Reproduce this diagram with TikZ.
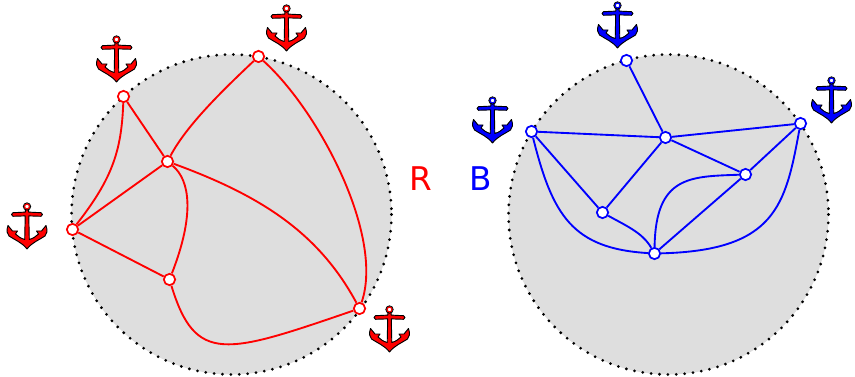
\documentclass[tikz,border=0pt]{standalone}
\usepackage{fontspec}
\setmainfont{DejaVu Sans}
\usepackage{xcolor}
\usetikzlibrary{positioning}

\definecolor{diskgray}{RGB}{222,222,222}

\tikzset{
  anchorsym/.pic={
    \path[pic actions, draw=black, line width=0.7pt, line join=round]
      (-1.6,-13) -- (-1.6,-10.4) -- (-14,-9.8) -- (-15.5,-8) -- (-14,-6.2) -- (-1.8,-6.6)
      -- (-2.3,17) .. controls (-6,16) and (-9,14) .. (-11.5,11.5)
      -- (-9.5,8.5) -- (-14.5,8.5) -- (-19,3) .. controls (-20.5,8) and (-20.5,11) .. (-18,13.5)
      .. controls (-12,17.5) and (-5,20) .. (0,26.5)
      .. controls (5,20) and (12,17.5) .. (18,13.5)
      .. controls (20.5,11) and (20.5,8) .. (19,3)
      -- (14.5,8.5) -- (9.5,8.5) -- (11.5,11.5)
      .. controls (9,14) and (6,16) .. (2.3,17)
      -- (1.8,-6.6) -- (14,-6.2) -- (15.5,-8) -- (14,-9.8) -- (1.6,-10.4) -- (1.6,-13) -- cycle;
    \draw[pic actions, fill=none, line width=1.1pt] (0,-16) circle (2.6);
    \draw[black, line width=0.6pt] (0,-16) circle (3.7);
  }
}

\begin{document}
\begin{tikzpicture}[
  x=0.75pt, y=-0.75pt,
  disk/.style={draw=black, fill=diskgray, line width=2.3pt, line cap=round, dash pattern=on 0pt off 6.3pt},
  vert/.style={circle, draw, fill=white, line width=1.3pt, minimum size=8.5pt, inner sep=0pt},
  redvert/.style={vert, draw=red},
  bluevert/.style={vert, draw=blue},
  redline/.style={draw=red, line width=1.4pt},
  blueline/.style={draw=blue, line width=1.4pt},
  setname/.style={font=\fontsize{24.5}{24.5}\selectfont, inner sep=0pt}
]
\useasboundingbox (-0.5,-0.5) rectangle (854.5,376.5);

% disks
\path[disk] (231,214) circle (160);
\path[disk] (668,214) circle (160);

% red graph
\node[redvert] (ra) at (258,56) {};
\node[redvert] (rb) at (123,96) {};
\node[redvert] (rc) at (167,161) {};
\node[redvert] (rd) at (72,229) {};
\node[redvert] (re) at (169,279) {};
\node[redvert] (rf) at (359,308) {};

\draw[redline] (rb) -- (rc);
\draw[redline] (rc) -- (rd);
\draw[redline] (rd) -- (re);
\draw[redline] (rb) .. controls (121,150) and (112,178) .. (rd);
\draw[redline] (rc) .. controls (186,125) and (222,90) .. (ra);
\draw[redline] (ra) .. controls (318,110) and (384,235) .. (rf);
\draw[redline] (rc) .. controls (190,180) and (194,215) .. (re);
\draw[redline] (rc) .. controls (260,195) and (318,232) .. (rf);
\draw[redline] (re) .. controls (195,364) and (225,354) .. (rf);

% blue graph
\node[bluevert] (ba) at (626,60) {};
\node[bluevert] (bb) at (531,131) {};
\node[bluevert] (bc) at (665,137) {};
\node[bluevert] (bd) at (800,123) {};
\node[bluevert] (be) at (745,174) {};
\node[bluevert] (bf) at (602,212) {};
\node[bluevert] (bg) at (654,253) {};

\draw[blueline] (ba) -- (bc);
\draw[blueline] (bb) -- (bc);
\draw[blueline] (bc) -- (bd);
\draw[blueline] (bc) -- (be);
\draw[blueline] (bc) -- (bf);
\draw[blueline] (bb) -- (bf);
\draw[blueline] (bd) -- (be);
\draw[blueline] (be) -- (bg);
\draw[blueline] (be) .. controls (690,176) and (655,175) .. (bg);
\draw[blueline] (bf) .. controls (625,225) and (642,232) .. (bg);
\draw[blueline] (bb) .. controls (552,215) and (572,248) .. (bg);
\draw[blueline] (bd) .. controls (785,205) and (775,250) .. (bg);

% labels
\node[setname, text=red] (rlabel) at (420,178) {R};
\node[setname, text=blue] (blabel) at (480.5,178) {B};

% anchors
\pic[fill=red, draw=red] at (116,55) {anchorsym};
\pic[fill=red, draw=red] at (286,24) {anchorsym};
\pic[fill=red, draw=red] at (26.5,222) {anchorsym};
\pic[fill=red, draw=red] at (389,325) {anchorsym};
\pic[fill=blue, draw=blue] at (617,21) {anchorsym};
\pic[fill=blue, draw=blue] at (492,116) {anchorsym};
\pic[fill=blue, draw=blue] at (831,96) {anchorsym};
\end{tikzpicture}
\end{document}
